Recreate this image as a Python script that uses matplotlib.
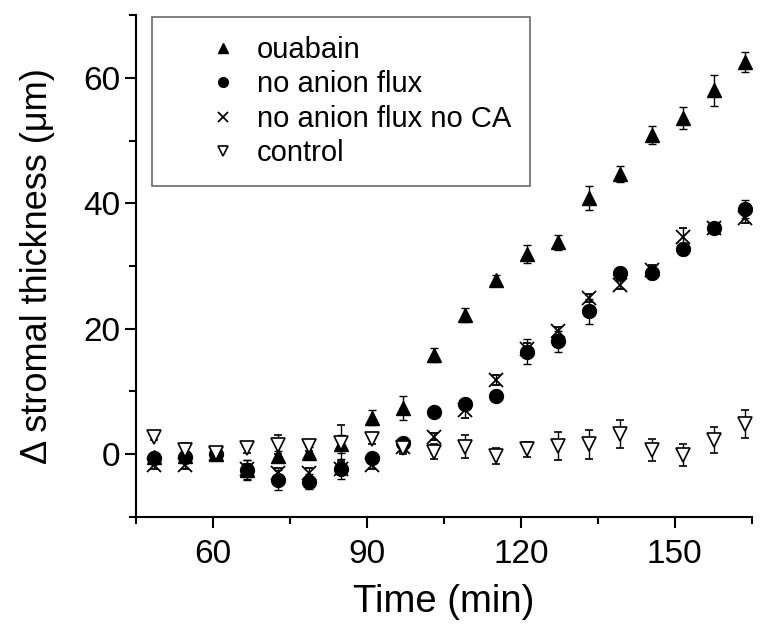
import matplotlib
matplotlib.use("Agg")
import matplotlib.pyplot as plt
from matplotlib.ticker import MultipleLocator

plt.rcParams['font.family'] = ['Liberation Sans', 'DejaVu Sans']

# time points (min)
time = [48.5, 54.5, 60.6, 66.7, 72.7, 78.8, 84.9, 90.9, 97.0, 103.0,
        109.1, 115.2, 121.2, 127.3, 133.3, 139.4, 145.5, 151.5, 157.6, 163.6]

ouabain = [-0.5, -0.3, 0.0, -2.5, -0.3, 0.2, 1.6, 5.8, 7.4, 15.8,
           22.2, 27.8, 31.9, 33.8, 40.8, 44.7, 50.9, 53.6, 58.0, 62.5]
ouabain_err = [0.8, 0.8, 0.3, 1.5, 0.8, 1.0, 1.5, 1.2, 1.9, 1.1,
               1.1, 0.8, 1.5, 1.2, 1.9, 1.3, 1.4, 1.7, 2.5, 1.6]

no_anion = [-0.6, -0.4, 0.0, -2.5, -4.1, -4.4, -2.4, -0.6, 1.8, 6.7,
            8.0, 9.3, 16.3, 18.0, 22.8, 28.9, 28.9, 32.7, 36.1, 39.1]
no_anion_err = [0.8, 0.8, 0.3, 1.6, 1.6, 1.2, 1.6, 0.6, 0.8, 0.5,
                0.6, 0.9, 2.0, 1.7, 2.0, 0.5, 0.9, 0.9, 0.6, 1.4]

no_ca = [-1.8, -1.8, 0.0, -2.3, -3.0, -3.0, -2.4, -1.8, 1.1, 2.8,
         7.0, 11.8, 16.8, 19.6, 24.9, 27.0, 29.4, 34.6, 36.0, 37.6]
no_ca_err = [0.5, 0.5, 0.3, 0.8, 0.8, 0.8, 1.0, 0.5, 0.8, 0.6,
             1.2, 0.8, 0.9, 0.6, 0.6, 0.6, 0.8, 1.5, 0.6, 0.8]

control = [2.7, 0.7, 0.2, 1.0, 1.5, 1.3, 1.8, 2.4, 1.0, 0.4,
           1.2, -0.3, 0.8, 1.3, 1.6, 3.2, 0.6, -0.1, 2.3, 4.8]
control_err = [0.5, 1.0, 0.3, 0.8, 1.5, 0.8, 2.9, 0.8, 1.0, 1.2,
               1.8, 1.2, 1.2, 2.2, 2.3, 2.2, 1.75, 1.75, 2.1, 2.2]

fig = plt.figure(figsize=(7.64, 6.28), dpi=100)
ax = fig.add_axes([0.178, 0.177, 0.806, 0.799])

eb = dict(ecolor='black', elinewidth=1.0, capsize=3, capthick=1.0,
          linestyle='none', color='black', markersize=10)
ax.errorbar(time, ouabain, yerr=ouabain_err, marker='^', label='ouabain', **eb)
ax.errorbar(time, no_anion, yerr=no_anion_err, marker='o', label='no anion flux', **eb)
ax.errorbar(time, no_ca, yerr=no_ca_err, marker='x', mew=1.3,
            label='no anion flux no CA', **eb)
ax.errorbar(time, control, yerr=control_err, marker='v', mfc='white', mew=1.2,
            label='control', **eb)

ax.set_xlim(45, 165)
ax.set_ylim(-10, 70)
ax.xaxis.set_major_locator(MultipleLocator(30))
ax.xaxis.set_minor_locator(MultipleLocator(15))
ax.yaxis.set_major_locator(MultipleLocator(20))
ax.yaxis.set_minor_locator(MultipleLocator(10))
ax.spines['top'].set_visible(False)
ax.spines['right'].set_visible(False)
for s in ('left', 'bottom'):
    ax.spines[s].set_linewidth(1.5)
ax.tick_params(which='major', direction='out', length=8, width=1.5, labelsize=24)
ax.tick_params(axis='x', which='major', pad=8)
ax.tick_params(which='minor', direction='out', length=5, width=1.5)

ax.set_xlabel('Time (min)', fontsize=27.5, labelpad=10)
ax.set_ylabel('\u0394 stromal thickness (\u03bcm)', fontsize=26, labelpad=20)

handles, labels = ax.get_legend_handles_labels()
handles = [h[0] for h in handles]
leg = ax.legend(handles, labels, loc='upper left', bbox_to_anchor=(152 / 764, 1 - 17 / 628),
                bbox_transform=fig.transFigure, borderaxespad=0, fontsize=21,
                frameon=True, fancybox=False, edgecolor='#444444', markerscale=0.7,
                handlelength=3.6, handletextpad=-0.65, borderpad=0.65, labelspacing=0.22)
leg.get_frame().set_linewidth(1.2)

fig.savefig('out.png', dpi=100)
